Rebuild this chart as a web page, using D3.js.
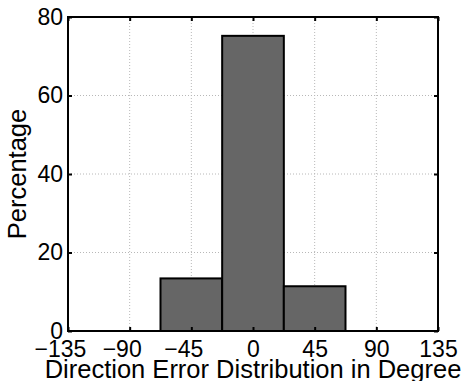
<!DOCTYPE html>
<html>
<head>
<meta charset="utf-8">
<script src="https://cdn.jsdelivr.net/npm/d3@7"></script>
<style>
  body { margin: 0; background: #fff; }
  text { font-family: "Liberation Sans", Arial, Helvetica, sans-serif; fill: #000; }
</style>
</head>
<body>
<div id="chart"></div>
<script>
"use strict"

// histogram bins (degrees) and percentage in each
const binStarts = [-67.5, -22.5, 22.5];
const binWidth = 45;
const percentages = [13.4, 75.2, 11.4];

const xTicks = [-135, -90, -45, 0, 45, 90, 135];
const yTicks = [0, 20, 40, 60, 80];

const xLabel = "Direction Error Distribution in Degree";
const yLabel = "Percentage";

let W = 464, H = 381;
let margin = {top: 17, right: 26, bottom: 50, left: 68};
let width = W - margin.left - margin.right,
    height = H - margin.top - margin.bottom;

let svg = d3.select("#chart")
  .append("svg")
  .attr("width", W)
  .attr("height", H);

let g = svg.append("g")
  .attr("transform", "translate(" + margin.left + "," + margin.top + ")");

let x = d3.scaleLinear().domain([-135, 135]).range([0, width]);
let y = d3.scaleLinear().domain([0, 80]).range([height, 0]);

// dotted grid
g.append("g")
  .selectAll("line")
  .data(xTicks.slice(1, -1))
  .enter().append("line")
  .attr("x1", d => x(d)).attr("x2", d => x(d))
  .attr("y1", 0).attr("y2", height)
  .style("stroke", "#b8b8b8")
  .style("stroke-width", 1)
  .style("stroke-dasharray", "1,2");

g.append("g")
  .selectAll("line")
  .data(yTicks.slice(1, -1))
  .enter().append("line")
  .attr("x1", 0).attr("x2", width)
  .attr("y1", d => y(d)).attr("y2", d => y(d))
  .style("stroke", "#b8b8b8")
  .style("stroke-width", 1)
  .style("stroke-dasharray", "1,2");

// bars
g.selectAll(".bar")
  .data(binStarts.map((s, i) => ({start: s, value: percentages[i]})))
  .enter().append("rect")
  .attr("class", "bar")
  .attr("x", d => x(d.start))
  .attr("y", d => y(d.value))
  .attr("width", d => x(d.start + binWidth) - x(d.start))
  .attr("height", d => y(0) - y(d.value))
  .style("fill", "#666666")
  .style("stroke", "#000")
  .style("stroke-width", 2);

// axes (ticks inside, MATLAB style)
let styleAxis = function(sel) {
  sel.select(".domain").remove();
  sel.selectAll(".tick line").style("stroke", "#000").style("stroke-width", 2);
  sel.selectAll("text").style("font-size", "23px");
}

let xAxis = g.append("g")
  .attr("transform", "translate(0," + height + ")")
  .call(d3.axisBottom(x).tickValues(xTicks).tickSize(-4).tickPadding(10)
    .tickFormat(d => d < 0 ? "\u2212" + Math.abs(d) : d));
styleAxis(xAxis);
xAxis.selectAll("text")
  .attr("dy", "0.71em")
  .attr("dx", d => d < 0 ? -8 : 0);

let yAxis = g.append("g")
  .call(d3.axisLeft(y).tickValues(yTicks).tickSize(-4).tickPadding(5));
styleAxis(yAxis);

g.append("g")
  .call(d3.axisTop(x).tickValues(xTicks).tickSize(-4).tickFormat(""))
  .call(styleAxis);

g.append("g")
  .attr("transform", "translate(" + width + ",0)")
  .call(d3.axisRight(y).tickValues(yTicks).tickSize(-4).tickFormat(""))
  .call(styleAxis);

// box
g.append("rect")
  .attr("width", width)
  .attr("height", height)
  .style("fill", "none")
  .style("stroke", "#000")
  .style("stroke-width", 2);

// axis labels
svg.append("text")
  .attr("x", margin.left + width / 2)
  .attr("y", 378)
  .attr("text-anchor", "middle")
  .style("font-size", "25.5px")
  .text(xLabel);

svg.append("text")
  .attr("transform", "translate(26," + (margin.top + height / 2) + ") rotate(-90)")
  .attr("text-anchor", "middle")
  .style("font-size", "25.5px")
  .text(yLabel);
</script>
</body>
</html>
